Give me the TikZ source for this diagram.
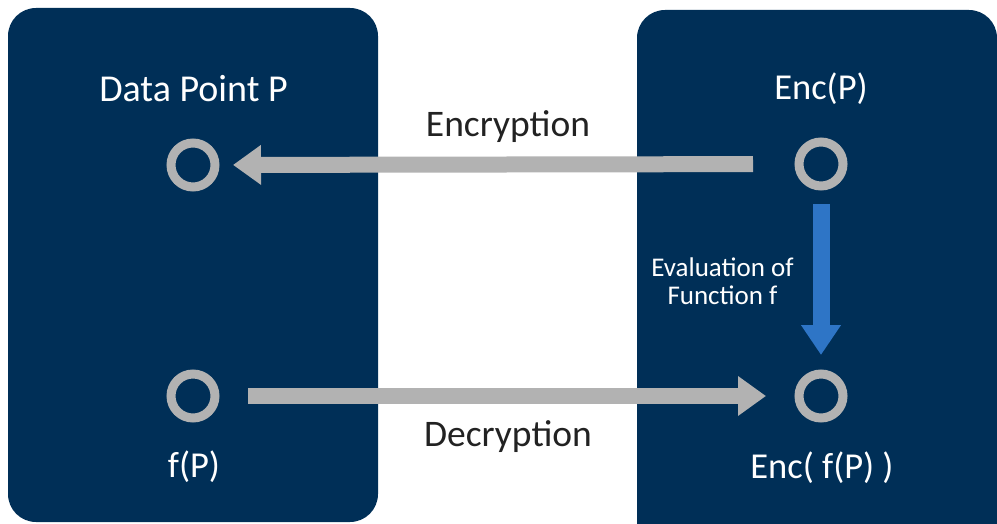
\documentclass[tikz,border=0pt]{standalone}
\usepackage{fontspec}
\setmainfont{Carlito}
\usetikzlibrary{arrows.meta}
\definecolor{panel}{RGB}{0,47,87}
\definecolor{ringgray}{RGB}{178,178,178}
\definecolor{evalblue}{RGB}{46,117,198}
\definecolor{darktext}{RGB}{34,34,34}
\tikzset{
  panelbox/.style={fill=panel, draw=none, rounded corners=28pt},
  ring/.style={circle, draw=ringgray, line width=9pt, minimum size=44pt, inner sep=0pt},
  wlabel/.style={text=white, font=\fontsize{36.5}{40}\selectfont, anchor=base, inner sep=0pt},
  dlabel/.style={text=darktext, font=\fontsize{37.5}{40}\selectfont, anchor=base, inner sep=0pt},
  elabel/.style={text=white, font=\fontsize{27}{28.4}\selectfont, align=center, inner sep=0pt},
  grayarrow/.style={draw=ringgray, line width=16pt, -{Triangle[length=28pt,width=38pt]}},
  bluearrow/.style={draw=evalblue, line width=17pt, -{Triangle[length=30pt,width=38pt]}}
}
\begin{document}
\begin{tikzpicture}[x=1pt,y=-1pt]
\useasboundingbox (0,0) rectangle (997,524);
\begin{scope}
\clip (0,0) rectangle (997,524);
\fill[panelbox] (8,8) rectangle (378,522);
\fill[panelbox] (637,10) rectangle (997,570);
\end{scope}
\node[ring] (p) at (193,165) {};
\node[ring] (fp) at (193,396) {};
\node[ring] (ep) at (821,164) {};
\node[ring] (efp) at (821,396) {};
\node[wlabel, font=\fontsize{38}{40}\selectfont] (lp) at (193.5,102) {Data Point P};
\node[wlabel] (lfp) at (194,477) {f(P)};
\node[wlabel] (lep) at (821,100) {Enc(P)};
\node[wlabel] (lefp) at (822,478) {Enc( f(P) )};
\node[dlabel] (lenc) at (508,137) {Encryption};
\node[dlabel] (ldec) at (508,446) {Decryption};
\node[elabel] (leval) at (722.5,281) {Evaluation of\\Function f};
\draw[grayarrow, shorten <=41.5pt, shorten >=13.5pt] (ep) -- (p);
\draw[grayarrow, shorten <=28.5pt, shorten >=28.5pt] (fp) -- (efp);
\draw[bluearrow, shorten <=13.5pt, shorten >=14.5pt] (ep) -- (efp);
\end{tikzpicture}
\end{document}
